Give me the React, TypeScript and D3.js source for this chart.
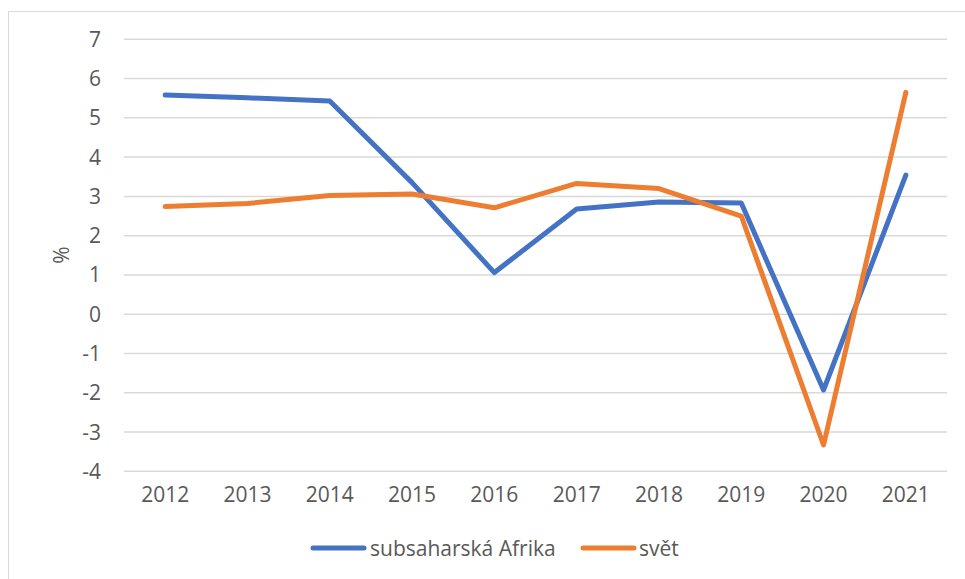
import React from 'react';
import * as d3 from 'd3';

const years = ['2012', '2013', '2014', '2015', '2016', '2017', '2018', '2019', '2020', '2021'];
const africa = [5.58, 5.51, 5.43, 3.35, 1.06, 2.68, 2.86, 2.83, -1.93, 3.54];
const world = [2.74, 2.82, 3.02, 3.06, 2.71, 3.33, 3.2, 2.5, -3.33, 5.65];
const yTicks = [7, 6, 5, 4, 3, 2, 1, 0, -1, -2, -3, -4];

const seriesList = [
  { name: 'subsaharská Afrika', values: africa, color: '#4472C4' },
  { name: 'svět', values: world, color: '#ED7D31' },
];

const W = 965;
const H = 579;
const font = '"Open Sans", "Noto Sans", sans-serif';
const textColor = '#595959';

const App: React.FC = () => {
  const x = d3.scaleBand().domain(years).range([124, 947]);
  const y = d3.scaleLinear().domain([-4, 7]).range([471.3, 39.3]);
  const cx = (d: string) => (x(d) as number) + x.bandwidth() / 2;

  const line = d3.line<number>()
    .x((_, i) => cx(years[i]))
    .y(v => y(v));

  // legend layout
  const legend = [
    { lx: 313, tx: 370 },
    { lx: 583, tx: 639 },
  ];

  return (
    <svg width={W} height={H} style={{ position: 'absolute', left: 0, top: 0, background: '#fff' }}>
      <rect x={8.5} y={11.5} width={1200} height={1000} fill="#fff" stroke="#d9d9d9" strokeWidth={1} />

      {yTicks.map(t => (
        <g key={t}>
          <line x1={124} x2={947} y1={y(t)} y2={y(t)} stroke="#d9d9d9" strokeWidth={1.5} />
          <text x={101} y={y(t)} dy="0.36em" textAnchor="end" fontSize={21} fill={textColor} fontFamily={font}>
            {t}
          </text>
        </g>
      ))}

      {years.map(yr => (
        <text key={yr} x={cx(yr)} y={502} textAnchor="middle" fontSize={21} fill={textColor} fontFamily={font}>
          {yr}
        </text>
      ))}

      <text
        transform="translate(62,255) rotate(-90)"
        textAnchor="middle"
        dy="0.35em"
        fontSize={21}
        fill={textColor}
        fontFamily={font}
      >
        %
      </text>

      {seriesList.map(s => (
        <path
          key={s.name}
          d={line(s.values) || ''}
          fill="none"
          stroke={s.color}
          strokeWidth={5}
          strokeLinecap="round"
          strokeLinejoin="round"
        />
      ))}

      {seriesList.map((s, i) => (
        <g key={s.name}>
          <line x1={legend[i].lx} x2={legend[i].lx + 51} y1={548} y2={548} stroke={s.color} strokeWidth={5} strokeLinecap="round" />
          <text x={legend[i].tx} y={555.5} fontSize={21} fill={textColor} fontFamily={font}>
            {s.name}
          </text>
        </g>
      ))}
    </svg>
  );
};

export default App;
